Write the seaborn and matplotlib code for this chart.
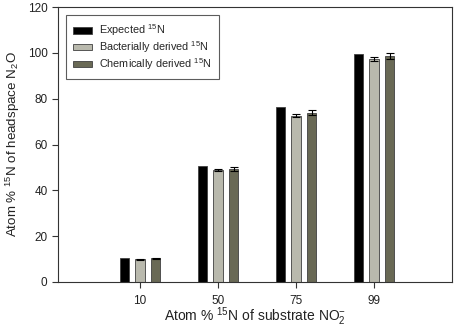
import matplotlib
matplotlib.use("Agg")
import matplotlib.pyplot as plt
import seaborn as sns
import pandas as pd
import numpy as np

categories = ["10", "50", "75", "99"]
series = ["Expected $^{15}$N", "Bacterially derived $^{15}$N", "Chemically derived $^{15}$N"]
expected = [10.5, 50.8, 76.3, 99.7]
bacterial = [9.9, 48.9, 72.6, 97.4]
chemical = [10.3, 49.3, 73.9, 98.7]
bacterial_err = [0.2, 0.4, 0.6, 1.0]
chemical_err = [0.2, 0.9, 1.0, 1.3]
colors = ["#000000", "#bbbbab", "#6c6c52"]

sns.set_style("ticks")
plt.rcParams["font.family"] = ["Liberation Sans", "DejaVu Sans"]
plt.rcParams["mathtext.default"] = "regular"

rows = []
for s, vals in zip(series, [expected, bacterial, chemical]):
    for c, v in zip(categories, vals):
        rows.append({"cat": c, "series": s, "value": v})
df = pd.DataFrame(rows)

fig = plt.figure(figsize=(4.54, 3.31), dpi=100)
ax = fig.add_axes([58/454, 49/331, 394/454, 275/331])

sns.barplot(data=df, x="cat", y="value", hue="series", order=categories,
            hue_order=series, palette=colors, width=0.6, gap=0.4,
            edgecolor="#404040", linewidth=0.6, errorbar=None, ax=ax)

# error bars
errs = {series[1]: bacterial_err, series[2]: chemical_err}
vals_map = {series[0]: expected, series[1]: bacterial, series[2]: chemical}
patches = [p for p in ax.patches if p.get_height() > 0]
for k, s in enumerate(series):
    if s not in errs:
        continue
    ps = patches[k*len(categories):(k+1)*len(categories)]
    xs = [p.get_x() + p.get_width()/2 for p in ps]
    ax.errorbar(xs, vals_map[s], yerr=errs[s], fmt="none", ecolor="black",
                elinewidth=0.8, capsize=3, capthick=0.8)

ax.set_xlim(-1.05, 4.0)
ax.set_ylim(0, 120)
ax.set_yticks([0, 20, 40, 60, 80, 100, 120])
ax.tick_params(axis="both", labelsize=8.5, length=4, width=0.8, color="#333333",
               labelcolor="#222222")
ax.tick_params(axis="x", pad=5)
for sp in ax.spines.values():
    sp.set_visible(True)
    sp.set_linewidth(0.8)
    sp.set_color("#333333")

ax.set_xlabel("Atom % $^{15}$N of substrate NO$_2^{-}$", fontsize=10, labelpad=-1,
              color="#222222")
ax.set_ylabel("Atom % $^{15}$N of headspace N$_2$O", fontsize=9.6, labelpad=4,
              color="#222222")

leg = ax.legend(loc="upper left", bbox_to_anchor=(0.02, 0.97), fontsize=7.8,
                frameon=True, fancybox=False, edgecolor="#333333",
                handlelength=1.8, handleheight=0.55, borderpad=0.65,
                labelspacing=0.1, handletextpad=0.6, borderaxespad=0)
leg.get_frame().set_linewidth(0.8)

fig.savefig("out.png", dpi=100)
